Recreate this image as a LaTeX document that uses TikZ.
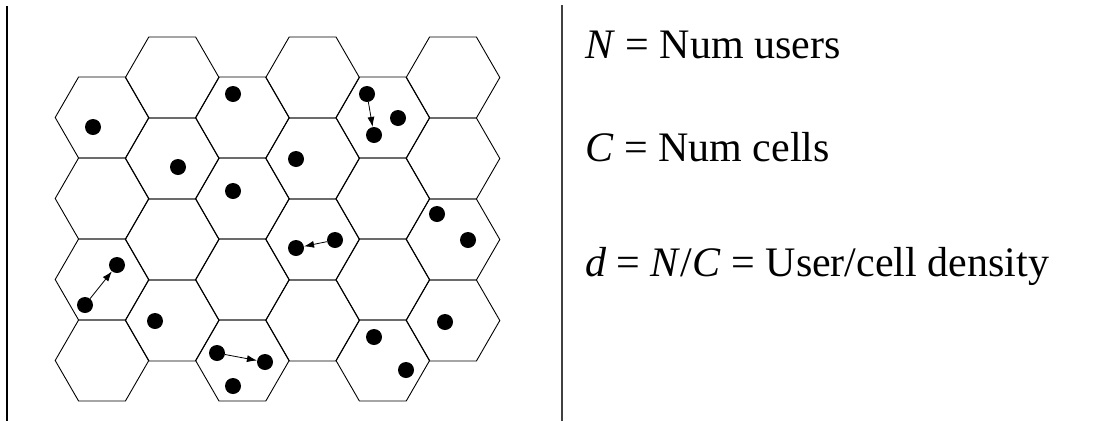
\documentclass[tikz,border=0pt]{standalone}
\usepackage{fontspec}
\setmainfont{Liberation Serif}
\usetikzlibrary{arrows.meta}

\begin{document}
\begin{tikzpicture}[x=1pt, y=-1pt,
    cell/.style={line width=0.9pt},
    user/.style={circle, fill=black, inner sep=0pt, minimum size=16pt},
    move/.style={-{Latex[length=10pt,width=7pt]}, line width=0.8pt},
    eqn/.style={anchor=base west, inner sep=0pt, font=\fontsize{42}{50}\selectfont}]
    \useasboundingbox (0,0) rectangle (1118,421);
    % frame lines
    \draw[line width=1.5pt] (7,6) -- (7,421);
    \draw[line width=1.2pt, black!75] (562,5) -- (562,421);
    % cells
    \foreach \i in {0,...,5} {
      \pgfmathsetmacro{\cx}{102+70.2*\i}
      \pgfmathsetmacro{\cy}{mod(\i,2)==1 ? 77.5 : 117.5}
      \foreach \j in {0,...,3}
        \draw[cell, shift={(\cx,\cy+81*\j)}] (0:46.8) -- (60:46.8) -- (120:46.8)
          -- (180:46.8) -- (240:46.8) -- (300:46.8) -- cycle;
    }
    % users
    \foreach \n/\p in {ua/{93,127}, ub/{233,94}, uc/{178,167}, ud/{233,191},
                       ue/{398,118}, uf/{296,159}, ug/{437,214}, uh/{468,240},
                       ui/{445,322}, uj/{374,337}, uk/{406,370}, ul/{155,321},
                       um/{233,386}}
      \node[user] (\n) at (\p) {};
    \node[user] (m1s) at (367,94) {};
    \node[user] (m1e) at (374,135) {};
    \node[user] (m2s) at (335,240) {};
    \node[user] (m2e) at (296,248) {};
    \node[user] (m3s) at (85,305) {};
    \node[user] (m3e) at (117,265) {};
    \node[user] (m4s) at (217,353) {};
    \node[user] (m4e) at (265,362) {};
    \draw[move] (m1s) -- (m1e);
    \draw[move] (m2s) -- (m2e);
    \draw[move] (m3s) -- (m3e);
    \draw[move] (m4s) -- (m4e);
    % definitions
    \node[eqn] (nusers) at (585,58) {\textit{N} = Num users};
    \node[eqn] (ncells) at (585,161) {\textit{C} = Num cells};
    \node[eqn] (dens) at (585,276) {\textit{d} = \textit{N}/\textit{C} = User/cell density};
\end{tikzpicture}
\end{document}
